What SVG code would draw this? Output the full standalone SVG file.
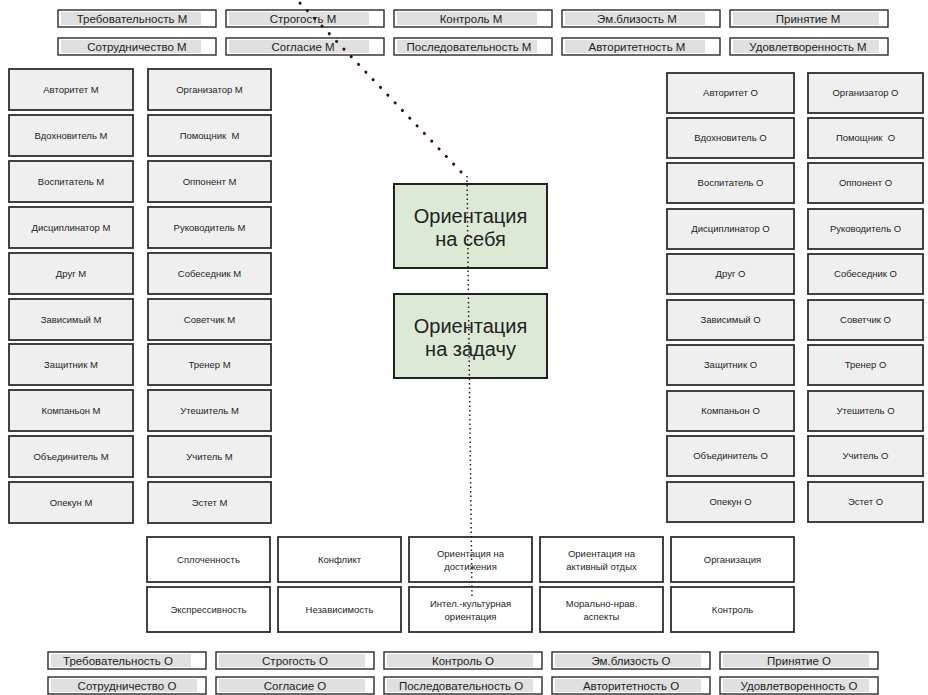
<svg xmlns="http://www.w3.org/2000/svg" width="928" height="695" viewBox="0 0 928 695">
<style>
text{font-family:"Liberation Sans",Arial,sans-serif;fill:#1e1e1e;text-anchor:middle}
.tb{fill:#fff;stroke:#2a2a2a;stroke-width:1.4}
.tbin{fill:#e0e0e0}
.tt{font-size:11.5px}
.rb{fill:#efefef;stroke:#2e2e2e;stroke-width:1.8}
.rt{font-size:9.5px}
.gb{fill:#fff;stroke:#2e2e2e;stroke-width:1.8}
.gt{font-size:9.5px}
.cb{fill:#dce9d5;stroke:#222;stroke-width:2}
.ct{font-size:20px;fill:#222}
.diag{stroke:#3a0c0c;stroke-width:3;stroke-dasharray:0.1 10.5;fill:none;stroke-linecap:round}
.vert{stroke:#222;stroke-width:1.5;stroke-dasharray:1.5 3;fill:none}
</style>

<!-- top rows (M) -->
<g id="top-trebovatelnost-m"><rect class="tb" x="58" y="10" width="158" height="17"/><rect class="tbin" x="61" y="12" width="140" height="13"/><text class="tt" x="132" y="22.5">Требовательность М</text></g>
<g id="top-strogost-m"><rect class="tb" x="226" y="10" width="158" height="17"/><rect class="tbin" x="229" y="12" width="140" height="13"/><text class="tt" x="303" y="22.5">Строгость М</text></g>
<g id="top-kontrol-m"><rect class="tb" x="394" y="10" width="158" height="17"/><rect class="tbin" x="397" y="12" width="140" height="13"/><text class="tt" x="471" y="22.5">Контроль М</text></g>
<g id="top-emblizost-m"><rect class="tb" x="562" y="10" width="158" height="17"/><rect class="tbin" x="565" y="12" width="140" height="13"/><text class="tt" x="637" y="22.5">Эм.близость М</text></g>
<g id="top-prinyatie-m"><rect class="tb" x="730" y="10" width="158" height="17"/><rect class="tbin" x="733" y="12" width="146" height="13"/><text class="tt" x="808" y="22.5">Принятие М</text></g>
<g id="top-sotrudnichestvo-m"><rect class="tb" x="58" y="38" width="158" height="17"/><rect class="tbin" x="61" y="40" width="140" height="13"/><text class="tt" x="137" y="50.5">Сотрудничество М</text></g>
<g id="top-soglasie-m"><rect class="tb" x="226" y="38" width="158" height="17"/><rect class="tbin" x="229" y="40" width="140" height="13"/><text class="tt" x="303" y="50.5">Согласие М</text></g>
<g id="top-posledovatelnost-m"><rect class="tb" x="394" y="38" width="158" height="17"/><rect class="tbin" x="397" y="40" width="140" height="13"/><text class="tt" x="469" y="50.5">Последовательность М</text></g>
<g id="top-avtoritetnost-m"><rect class="tb" x="562" y="38" width="158" height="17"/><rect class="tbin" x="565" y="40" width="140" height="13"/><text class="tt" x="637" y="50.5">Авторитетность М</text></g>
<g id="top-udovletvorennost-m"><rect class="tb" x="730" y="38" width="158" height="17"/><rect class="tbin" x="733" y="40" width="146" height="13"/><text class="tt" x="808" y="50.5">Удовлетворенность М</text></g>

<!-- left columns (M) -->
<g id="l1-1"><rect class="rb" x="9" y="69" width="124" height="41"/><text class="rt" x="71" y="92.5">Авторитет М</text></g>
<g id="l1-2"><rect class="rb" x="9" y="115" width="124" height="41"/><text class="rt" x="71" y="138.5">Вдохновитель М</text></g>
<g id="l1-3"><rect class="rb" x="9" y="161" width="124" height="41"/><text class="rt" x="71" y="184.5">Воспитатель М</text></g>
<g id="l1-4"><rect class="rb" x="9" y="207" width="124" height="41"/><text class="rt" x="71" y="230.5">Дисциплинатор М</text></g>
<g id="l1-5"><rect class="rb" x="9" y="253" width="124" height="41"/><text class="rt" x="71" y="276.5">Друг М</text></g>
<g id="l1-6"><rect class="rb" x="9" y="299" width="124" height="41"/><text class="rt" x="71" y="322.5">Зависимый М</text></g>
<g id="l1-7"><rect class="rb" x="9" y="344" width="124" height="41"/><text class="rt" x="71" y="367.5">Защитник М</text></g>
<g id="l1-8"><rect class="rb" x="9" y="390" width="124" height="41"/><text class="rt" x="71" y="413.5">Компаньон М</text></g>
<g id="l1-9"><rect class="rb" x="9" y="436" width="124" height="41"/><text class="rt" x="71" y="459.5">Объединитель М</text></g>
<g id="l1-10"><rect class="rb" x="9" y="482" width="124" height="41"/><text class="rt" x="71" y="505.5">Опекун М</text></g>

<g id="l2-1"><rect class="rb" x="148" y="69" width="123" height="41"/><text class="rt" x="209.5" y="92.5">Организатор М</text></g>
<g id="l2-2"><rect class="rb" x="148" y="115" width="123" height="41"/><text class="rt" x="209.5" y="138.5" xml:space="preserve">Помощник  М</text></g>
<g id="l2-3"><rect class="rb" x="148" y="161" width="123" height="41"/><text class="rt" x="209.5" y="184.5">Оппонент М</text></g>
<g id="l2-4"><rect class="rb" x="148" y="207" width="123" height="41"/><text class="rt" x="209.5" y="230.5">Руководитель М</text></g>
<g id="l2-5"><rect class="rb" x="148" y="253" width="123" height="41"/><text class="rt" x="209.5" y="276.5">Собеседник М</text></g>
<g id="l2-6"><rect class="rb" x="148" y="299" width="123" height="41"/><text class="rt" x="209.5" y="322.5">Советчик М</text></g>
<g id="l2-7"><rect class="rb" x="148" y="344" width="123" height="41"/><text class="rt" x="209.5" y="367.5">Тренер М</text></g>
<g id="l2-8"><rect class="rb" x="148" y="390" width="123" height="41"/><text class="rt" x="209.5" y="413.5">Утешитель М</text></g>
<g id="l2-9"><rect class="rb" x="148" y="436" width="123" height="41"/><text class="rt" x="209.5" y="459.5">Учитель М</text></g>
<g id="l2-10"><rect class="rb" x="148" y="482" width="123" height="41"/><text class="rt" x="209.5" y="505.5">Эстет М</text></g>

<!-- right columns (O) -->
<g id="r1-1"><rect class="rb" x="667" y="73" width="127" height="40"/><text class="rt" x="730.5" y="96">Авторитет О</text></g>
<g id="r1-2"><rect class="rb" x="667" y="118" width="127" height="40"/><text class="rt" x="730.5" y="141">Вдохновитель О</text></g>
<g id="r1-3"><rect class="rb" x="667" y="163" width="127" height="40"/><text class="rt" x="730.5" y="186">Воспитатель О</text></g>
<g id="r1-4"><rect class="rb" x="667" y="209" width="127" height="40"/><text class="rt" x="730.5" y="232">Дисциплинатор О</text></g>
<g id="r1-5"><rect class="rb" x="667" y="254" width="127" height="40"/><text class="rt" x="730.5" y="277">Друг О</text></g>
<g id="r1-6"><rect class="rb" x="667" y="300" width="127" height="40"/><text class="rt" x="730.5" y="323">Зависимый О</text></g>
<g id="r1-7"><rect class="rb" x="667" y="345" width="127" height="40"/><text class="rt" x="730.5" y="368">Защитник О</text></g>
<g id="r1-8"><rect class="rb" x="667" y="391" width="127" height="40"/><text class="rt" x="730.5" y="414">Компаньон О</text></g>
<g id="r1-9"><rect class="rb" x="667" y="436" width="127" height="40"/><text class="rt" x="730.5" y="459">Объединитель О</text></g>
<g id="r1-10"><rect class="rb" x="667" y="482" width="127" height="40"/><text class="rt" x="730.5" y="505">Опекун О</text></g>

<g id="r2-1"><rect class="rb" x="808" y="73" width="115" height="40"/><text class="rt" x="865.5" y="96">Организатор О</text></g>
<g id="r2-2"><rect class="rb" x="808" y="118" width="115" height="40"/><text class="rt" x="865.5" y="141" xml:space="preserve">Помощник  О</text></g>
<g id="r2-3"><rect class="rb" x="808" y="163" width="115" height="40"/><text class="rt" x="865.5" y="186">Оппонент О</text></g>
<g id="r2-4"><rect class="rb" x="808" y="209" width="115" height="40"/><text class="rt" x="865.5" y="232">Руководитель О</text></g>
<g id="r2-5"><rect class="rb" x="808" y="254" width="115" height="40"/><text class="rt" x="865.5" y="277">Собеседник О</text></g>
<g id="r2-6"><rect class="rb" x="808" y="300" width="115" height="40"/><text class="rt" x="865.5" y="323">Советчик О</text></g>
<g id="r2-7"><rect class="rb" x="808" y="345" width="115" height="40"/><text class="rt" x="865.5" y="368">Тренер О</text></g>
<g id="r2-8"><rect class="rb" x="808" y="391" width="115" height="40"/><text class="rt" x="865.5" y="414">Утешитель О</text></g>
<g id="r2-9"><rect class="rb" x="808" y="436" width="115" height="40"/><text class="rt" x="865.5" y="459">Учитель О</text></g>
<g id="r2-10"><rect class="rb" x="808" y="482" width="115" height="40"/><text class="rt" x="865.5" y="505">Эстет О</text></g>

<!-- center -->
<g id="orient-self"><rect class="cb" x="394" y="184" width="153" height="84"/><text class="ct" x="470.5" y="223">Ориентация</text><text class="ct" x="470.5" y="246">на себя</text></g>
<g id="orient-task"><rect class="cb" x="394" y="294" width="153" height="84"/><text class="ct" x="470.5" y="333">Ориентация</text><text class="ct" x="470.5" y="356">на задачу</text></g>

<!-- bottom grid -->
<g id="g-1-1"><rect class="gb" x="147" y="537" width="123" height="45"/><text class="gt" x="208.5" y="563">Сплоченность</text></g>
<g id="g-1-2"><rect class="gb" x="278" y="537" width="123" height="45"/><text class="gt" x="339.5" y="563">Конфликт</text></g>
<g id="g-1-3"><rect class="gb" x="409" y="537" width="123" height="45"/><text class="gt" x="470.5" y="557">Ориентация на</text><text class="gt" x="470.5" y="570">достижения</text></g>
<g id="g-1-4"><rect class="gb" x="540" y="537" width="123" height="45"/><text class="gt" x="601.5" y="557">Ориентация на</text><text class="gt" x="601.5" y="570">активный отдых</text></g>
<g id="g-1-5"><rect class="gb" x="671" y="537" width="123" height="45"/><text class="gt" x="732.5" y="563">Организация</text></g>
<g id="g-2-1"><rect class="gb" x="147" y="587" width="123" height="45"/><text class="gt" x="208.5" y="613">Экспрессивность</text></g>
<g id="g-2-2"><rect class="gb" x="278" y="587" width="123" height="45"/><text class="gt" x="339.5" y="613">Независимость</text></g>
<g id="g-2-3"><rect class="gb" x="409" y="587" width="123" height="45"/><text class="gt" x="470.5" y="607">Интел.-культурная</text><text class="gt" x="470.5" y="620">ориентация</text></g>
<g id="g-2-4"><rect class="gb" x="540" y="587" width="123" height="45"/><text class="gt" x="601.5" y="607">Морально-нрав.</text><text class="gt" x="601.5" y="620">аспекты</text></g>
<g id="g-2-5"><rect class="gb" x="671" y="587" width="123" height="45"/><text class="gt" x="732.5" y="613">Контроль</text></g>

<!-- bottom rows (O) -->
<g id="bot-trebovatelnost-o"><rect class="tb" x="48" y="652" width="158" height="17"/><rect class="tbin" x="51" y="654" width="140" height="13"/><text class="tt" x="118" y="664.5">Требовательность О</text></g>
<g id="bot-strogost-o"><rect class="tb" x="216" y="652" width="158" height="17"/><rect class="tbin" x="219" y="654" width="146" height="13"/><text class="tt" x="295" y="664.5">Строгость О</text></g>
<g id="bot-kontrol-o"><rect class="tb" x="384" y="652" width="158" height="17"/><rect class="tbin" x="387" y="654" width="146" height="13"/><text class="tt" x="463" y="664.5">Контроль О</text></g>
<g id="bot-emblizost-o"><rect class="tb" x="552" y="652" width="158" height="17"/><rect class="tbin" x="555" y="654" width="146" height="13"/><text class="tt" x="631" y="664.5">Эм.близость О</text></g>
<g id="bot-prinyatie-o"><rect class="tb" x="720" y="652" width="158" height="17"/><rect class="tbin" x="723" y="654" width="146" height="13"/><text class="tt" x="799" y="664.5">Принятие О</text></g>
<g id="bot-sotrudnichestvo-o"><rect class="tb" x="48" y="677" width="158" height="17"/><rect class="tbin" x="51" y="679" width="146" height="13"/><text class="tt" x="127" y="689.5">Сотрудничество О</text></g>
<g id="bot-soglasie-o"><rect class="tb" x="216" y="677" width="158" height="17"/><rect class="tbin" x="219" y="679" width="146" height="13"/><text class="tt" x="295" y="689.5">Согласие О</text></g>
<g id="bot-posledovatelnost-o"><rect class="tb" x="384" y="677" width="158" height="17"/><rect class="tbin" x="387" y="679" width="146" height="13"/><text class="tt" x="461" y="689.5">Последовательность О</text></g>
<g id="bot-avtoritetnost-o"><rect class="tb" x="552" y="677" width="158" height="17"/><rect class="tbin" x="555" y="679" width="146" height="13"/><text class="tt" x="631" y="689.5">Авторитетность О</text></g>
<g id="bot-udovletvorennost-o"><rect class="tb" x="720" y="677" width="158" height="17"/><rect class="tbin" x="723" y="679" width="146" height="13"/><text class="tt" x="799" y="689.5">Удовлетворенность О</text></g>

<!-- connectors -->
<g id="connectors">
<line class="diag" x1="300" y1="3" x2="465" y2="176"/>
<line class="vert" x1="467" y1="176" x2="472" y2="598"/>
</g>
</svg>
